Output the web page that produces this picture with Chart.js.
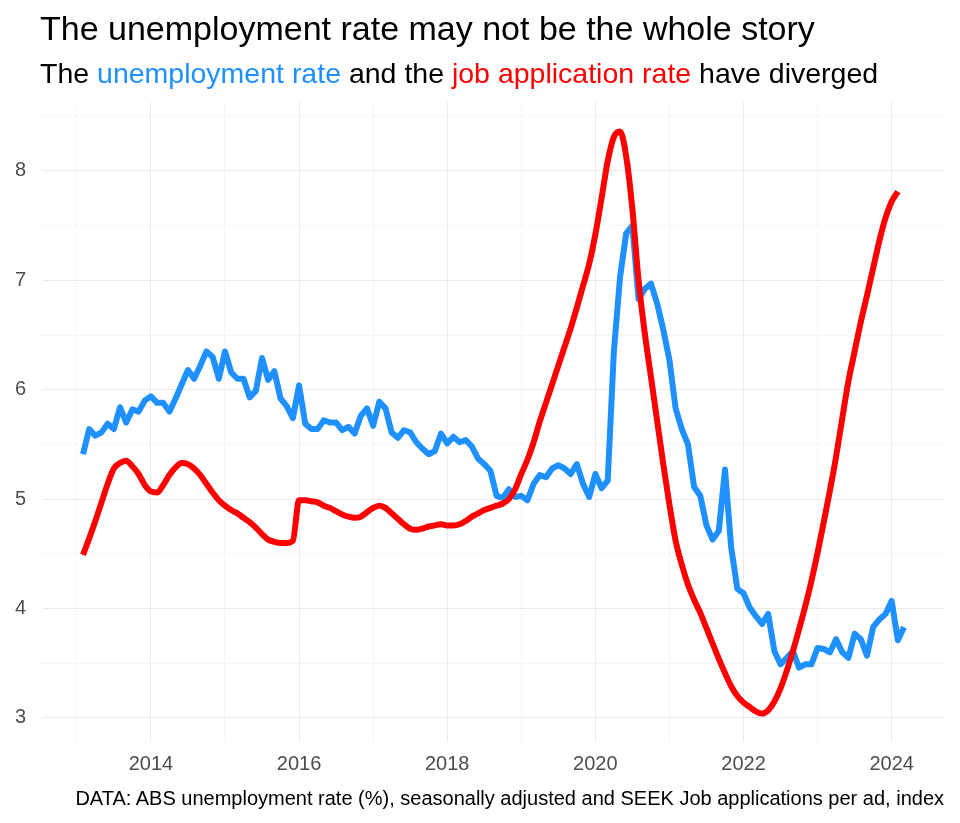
<!DOCTYPE html>
<html lang="en">
<head>
    <meta charset="UTF-8">
    <title>The unemployment rate may not be the whole story</title>
    <script src="https://cdn.jsdelivr.net/npm/chart.js"></script>
    <style>
        body {
            margin: 0;
            background: #fff;
            font-family: "Liberation Sans", Arial, sans-serif;
        }

        .wrap {
            position: relative;
            width: 960px;
            height: 823px;
        }

        #chart {
            position: absolute;
            left: 0;
            top: 0;
        }

        .title {
            position: absolute;
            left: 40px;
            top: 11px;
            font-size: 34px;
            line-height: 34px;
            color: #000;
            white-space: nowrap;
        }

        .subtitle {
            position: absolute;
            left: 40px;
            top: 59px;
            font-size: 28.5px;
            line-height: 28.5px;
            color: #000;
            white-space: nowrap;
        }

        .blue { color: #1E90FF; }
        .red { color: #FF0000; }

        .caption {
            position: absolute;
            right: 16px;
            top: 788px;
            font-size: 20px;
            line-height: 20px;
            color: #000;
            white-space: nowrap;
        }
    </style>
</head>
<body>
    <div class="wrap">
        <canvas id="chart" width="960" height="823"></canvas>
        <div class="title">The unemployment rate may not be the whole story</div>
        <div class="subtitle">The <span class="blue">unemployment rate</span> and the <span class="red">job application rate</span> have diverged</div>
        <div class="caption">DATA: ABS unemployment rate (%), seasonally adjusted and SEEK Job applications per ad, index</div>
    </div>

    <script>
        // monthly series, first value = Feb 2013
        const startYear = 2013;
        const startMonth = 2;

        // ABS unemployment rate (%), Feb 2013 - Mar 2024
        const unemploymentRate = [
            5.41, 5.64, 5.58, 5.61, 5.69, 5.64, 5.84, 5.70, 5.82, 5.80, 5.90,
            5.94, 5.88, 5.88, 5.80, 5.92, 6.05, 6.18, 6.10, 6.22, 6.35, 6.30, 6.10,
            6.35, 6.16, 6.10, 6.10, 5.93, 5.99, 6.29, 6.09, 6.17, 5.92, 5.85, 5.74,
            6.04, 5.69, 5.64, 5.64, 5.72, 5.70, 5.70, 5.63, 5.66, 5.60, 5.76, 5.83,
            5.67, 5.89, 5.83, 5.61, 5.56, 5.63, 5.61, 5.52, 5.46, 5.41, 5.44, 5.60,
            5.51, 5.57, 5.52, 5.54, 5.48, 5.37, 5.32, 5.26, 5.03, 5.01, 5.09, 5.02,
            5.03, 4.99, 5.14, 5.22, 5.20, 5.28, 5.31, 5.28, 5.23, 5.32, 5.14, 5.02,
            5.23, 5.10, 5.17, 6.35, 7.03, 7.43, 7.50, 6.83, 6.92, 6.97, 6.79, 6.55,
            6.27, 5.83, 5.64, 5.50, 5.11, 5.03, 4.76, 4.63, 4.71, 5.27, 4.56, 4.18,
            4.14, 4.01, 3.93, 3.86, 3.95, 3.61, 3.49, 3.55, 3.61, 3.46, 3.49, 3.49,
            3.64, 3.63, 3.60, 3.72, 3.60, 3.55, 3.77, 3.72, 3.57, 3.83, 3.90, 3.95,
            4.07, 3.71, 3.83
        ];

        // SEEK job applications per ad, index (scaled to the same axis), Feb 2013 - Feb 2024
        const jobApplicationRate = [
            4.49, 4.64, 4.80, 4.97, 5.14, 5.28, 5.33, 5.35, 5.30, 5.23, 5.13,
            5.07, 5.06, 5.13, 5.22, 5.29, 5.33, 5.32, 5.28, 5.22, 5.14, 5.06, 4.99,
            4.94, 4.90, 4.87, 4.83, 4.79, 4.74, 4.68, 4.63, 4.61, 4.60, 4.60, 4.62,
            4.99, 4.99, 4.98, 4.97, 4.94, 4.92, 4.89, 4.86, 4.84, 4.83, 4.84, 4.88,
            4.92, 4.94, 4.92, 4.87, 4.82, 4.77, 4.73, 4.72, 4.73, 4.75, 4.76, 4.77,
            4.76, 4.76, 4.77, 4.80, 4.84, 4.87, 4.90, 4.92, 4.94, 4.96, 5.00, 5.09,
            5.23, 5.36, 5.52, 5.71, 5.88, 6.05, 6.22, 6.39, 6.56, 6.75, 6.95, 7.15,
            7.42, 7.75, 8.09, 8.31, 8.36, 8.13, 7.65, 7.00, 6.52, 6.12, 5.72, 5.32,
            4.95, 4.62, 4.40, 4.22, 4.08, 3.96, 3.82, 3.68, 3.54, 3.41, 3.29, 3.20,
            3.14, 3.10, 3.06, 3.04, 3.07, 3.15, 3.27, 3.43, 3.61, 3.81, 4.02, 4.25,
            4.51, 4.79, 5.08, 5.39, 5.74, 6.08, 6.35, 6.62, 6.86, 7.11, 7.36, 7.57,
            7.72, 7.81
        ];

        const xTickLabels = [2014, 2016, 2018, 2020, 2022, 2024];
        const yTickLabels = [3, 4, 5, 6, 7, 8];

        function monthToYear(i) {
            return startYear + (startMonth - 1 + i) / 12;
        }

        const bluePoints = unemploymentRate.map((v, i) => ({ x: monthToYear(i), y: v }));
        const redPoints = jobApplicationRate.map((v, i) => ({ x: monthToYear(i), y: v }));

        const tickFont = { family: "'Liberation Sans', Arial, sans-serif", size: 20 };

        new Chart(document.getElementById("chart"), {
            type: "line",
            data: {
                datasets: [
                    {
                        label: "Job application rate",
                        data: redPoints,
                        borderColor: "#FF0000",
                        borderWidth: 6,
                        pointRadius: 0,
                        cubicInterpolationMode: "monotone",
                        borderJoinStyle: "round"
                    },
                    {
                        label: "Unemployment rate",
                        data: bluePoints,
                        borderColor: "#1E90FF",
                        borderWidth: 6,
                        pointRadius: 0,
                        tension: 0,
                        borderJoinStyle: "round"
                    }
                ]
            },
            options: {
                responsive: false,
                animation: false,
                layout: { padding: { top: 102, right: 15, left: 0, bottom: 41 } },
                plugins: {
                    legend: { display: false },
                    tooltip: { enabled: false }
                },
                scales: {
                    x: {
                        type: "linear",
                        min: 2012.53,
                        max: 2024.72,
                        border: { display: false },
                        afterBuildTicks: (scale) => {
                            const ticks = [];
                            for (let y = 2013; y <= 2024; y++) ticks.push({ value: y });
                            scale.ticks = ticks;
                        },
                        afterFit: (scale) => { scale.height = 40; },
                        grid: {
                            drawTicks: false,
                            color: (ctx) => xTickLabels.includes(ctx.tick.value) ? "#EBEBEB" : "#F4F4F4",
                            lineWidth: (ctx) => xTickLabels.includes(ctx.tick.value) ? 1 : 0.8
                        },
                        ticks: {
                            autoSkip: false,
                            maxRotation: 0,
                            padding: 10,
                            color: "#4D4D4D",
                            font: tickFont,
                            callback: (v) => xTickLabels.includes(v) ? String(v) : ""
                        }
                    },
                    y: {
                        min: 2.78,
                        max: 8.63,
                        border: { display: false },
                        afterBuildTicks: (scale) => {
                            const ticks = [];
                            for (let v = 3; v <= 8.5; v += 0.5) ticks.push({ value: v });
                            scale.ticks = ticks;
                        },
                        afterFit: (scale) => { scale.width = 42; },
                        grid: {
                            drawTicks: false,
                            color: (ctx) => yTickLabels.includes(ctx.tick.value) ? "#EBEBEB" : "#F4F4F4",
                            lineWidth: (ctx) => yTickLabels.includes(ctx.tick.value) ? 1 : 0.8
                        },
                        ticks: {
                            padding: 16,
                            color: "#4D4D4D",
                            font: tickFont,
                            callback: (v) => yTickLabels.includes(v) ? String(v) : ""
                        }
                    }
                }
            }
        });
    </script>
</body>
</html>
